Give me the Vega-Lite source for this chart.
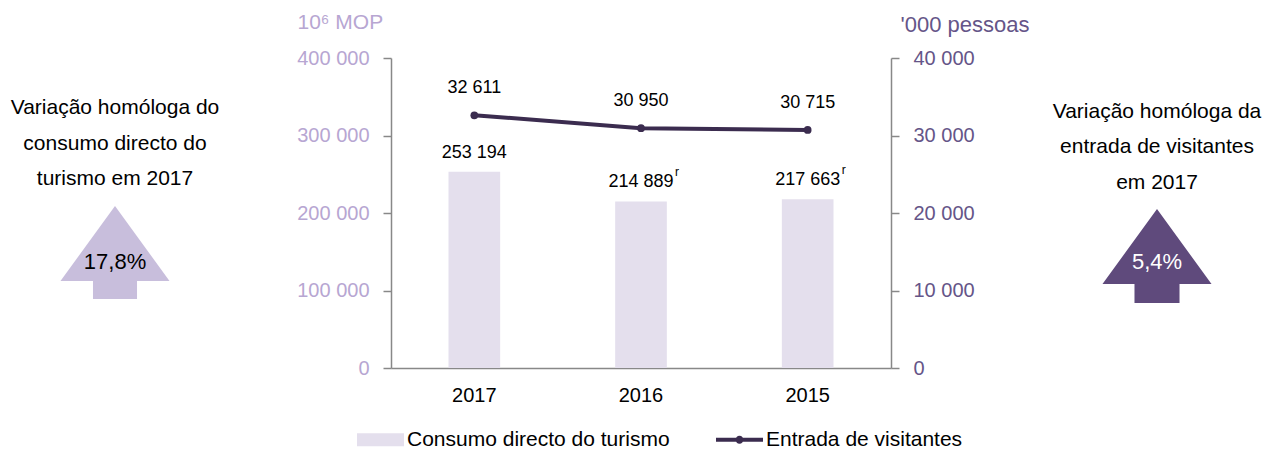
{
  "$schema": "https://vega.github.io/schema/vega-lite/v6.json",
  "width": 500,
  "height": 310,
  "autosize": {"type": "none"},
  "padding": {"left": 391, "top": 58, "right": 386, "bottom": 87},
  "background": "white",
  "config": {
    "font": "Liberation Sans, Arial, sans-serif",
    "view": {"stroke": null},
    "locale": {"number": {"decimal": ",", "thousands": " ", "grouping": [3], "currency": ["", ""]}},
    "axis": {
      "labelFont": "Liberation Sans, Arial, sans-serif",
      "titleFont": "Liberation Sans, Arial, sans-serif",
      "grid": false,
      "domainColor": "#888888",
      "tickColor": "#888888",
      "domainWidth": 1.5,
      "tickWidth": 1.5
    },
    "legend": {"labelFont": "Liberation Sans, Arial, sans-serif"},
    "text": {"font": "Liberation Sans, Arial, sans-serif"}
  },
  "datasets": {
    "principal": [
      {"ano": "2017", "consumo": 253194, "visitantes": 32611, "nota": ""},
      {"ano": "2016", "consumo": 214889, "visitantes": 30950, "nota": "r"},
      {"ano": "2015", "consumo": 217663, "visitantes": 30715, "nota": "r"}
    ],
    "textos": [
      {"lado": "esquerda", "linha": 1, "texto": "Variação homóloga do"},
      {"lado": "esquerda", "linha": 2, "texto": "consumo directo do"},
      {"lado": "esquerda", "linha": 3, "texto": "turismo em 2017"},
      {"lado": "direita", "linha": 1, "texto": "Variação homóloga da"},
      {"lado": "direita", "linha": 2, "texto": "entrada de visitantes"},
      {"lado": "direita", "linha": 3, "texto": "em 2017"}
    ],
    "setas": [
      {"lado": "esquerda", "linha": 5, "variacao": 0.178},
      {"lado": "direita", "linha": 5, "variacao": 0.054}
    ]
  },
  "layer": [
    {
      "data": {"name": "principal"},
      "layer": [
        {
          "encoding": {
            "x": {
              "field": "ano", "type": "nominal", "sort": null,
              "scale": {"paddingInner": 0.69, "paddingOuter": 0.345},
              "axis": {"title": null, "labelAngle": 0, "ticks": false, "labelPadding": 17, "labelFontSize": 20, "labelColor": "#000000"}
            },
            "y": {
              "field": "consumo", "type": "quantitative",
              "scale": {"domain": [0, 400000], "nice": false},
              "axis": {
                "orient": "left",
                "values": [0, 100000, 200000, 300000, 400000],
                "labelExpr": "format(datum.value, ',')",
                "labelFontSize": 20,
                "labelColor": "#b7a6d2",
                "tickSize": 8,
                "labelPadding": 14,
                "title": "10⁶ MOP",
                "titleAngle": 0,
                "titleAlign": "left",
                "titleBaseline": "middle",
                "titleX": -94,
                "titleY": -36,
                "titleFontSize": 21,
                "titleFontWeight": "normal",
                "titleColor": "#b7a6d2"
              }
            }
          },
          "layer": [
            {
              "mark": {"type": "bar"},
              "encoding": {
                "color": {
                  "datum": "Consumo directo do turismo",
                  "scale": {"domain": ["Consumo directo do turismo", "Entrada de visitantes"], "range": ["#e4dfed", "#3b2c4f"]},
                  "legend": {
                    "title": null,
                    "orient": "none",
                    "legendX": -34,
                    "legendY": 358,
                    "direction": "horizontal",
                    "symbolSize": 2209,
                    "labelFontSize": 21,
                    "labelLimit": 0,
                    "labelColor": "#000000",
                    "labelOffset": 3,
                    "columnPadding": 46,
                    "symbolStrokeWidth": 0,
                    "encode": {
                      "symbols": {
                        "update": {
                          "shape": {"signal": "datum.value === 'Consumo directo do turismo' ? 'M-1,-0.28H1V0.28H-1Z' : 'M-1,-0.085H1V0.085H-1ZM0.17,0A0.17,0.17,0,1,1,-0.17,0A0.17,0.17,0,1,1,0.17,0Z'"},
                          "fill": {"signal": "datum.value === 'Consumo directo do turismo' ? '#e4dfed' : '#3b2c4f'"},
                          "opacity": {"value": 1},
                          "fillOpacity": {"value": 1},
                          "strokeWidth": {"value": 0}
                        }
                      }
                    }
                  }
                }
              }
            },
            {
              "mark": {"type": "text", "dy": -19, "fontSize": 18, "color": "#000000"},
              "encoding": {"text": {"field": "consumo", "type": "quantitative", "format": ","}}
            },
            {
              "mark": {"type": "text", "dx": 34, "dy": -29, "fontSize": 12, "align": "left", "color": "#000000"},
              "encoding": {"text": {"field": "nota", "type": "nominal"}}
            }
          ]
        },
        {
          "encoding": {
            "x": {
              "field": "ano", "type": "nominal", "sort": null,
              "scale": {"paddingInner": 0.69, "paddingOuter": 0.345},
              "axis": {"title": null, "labelAngle": 0, "ticks": false, "labelPadding": 17, "labelFontSize": 20, "labelColor": "#000000"}
            },
            "y": {
              "field": "visitantes", "type": "quantitative",
              "scale": {"domain": [0, 40000], "nice": false},
              "axis": {
                "orient": "right",
                "values": [0, 10000, 20000, 30000, 40000],
                "labelExpr": "format(datum.value, ',')",
                "labelFontSize": 20,
                "labelColor": "#655588",
                "tickSize": 8,
                "labelPadding": 14,
                "title": "'000 pessoas",
                "titleAngle": 0,
                "titleAlign": "left",
                "titleBaseline": "middle",
                "titleX": 9,
                "titleY": -34,
                "titleFontSize": 22,
                "titleFontWeight": "normal",
                "titleColor": "#655588"
              }
            }
          },
          "layer": [
            {
              "mark": {"type": "line", "strokeWidth": 4, "point": {"filled": true, "size": 60, "color": "#3b2c4f"}},
              "encoding": {"color": {"datum": "Entrada de visitantes"}}
            },
            {
              "mark": {"type": "text", "dy": -27, "fontSize": 18, "color": "#000000"},
              "encoding": {"text": {"field": "visitantes", "type": "quantitative", "format": ","}}
            }
          ]
        }
      ],
      "resolve": {"scale": {"y": "independent"}}
    },
    {
      "encoding": {
        "x": {"field": "lado", "type": "nominal", "scale": {"type": "point", "domain": ["esquerda", "direita"], "range": [-276, 766], "padding": 0}, "axis": null},
        "y": {"field": "linha", "type": "ordinal", "scale": {"type": "point", "domain": [1, 2, 3, 4, 5], "range": [49, 191], "padding": 0}, "axis": null}
      },
      "layer": [
        {
          "data": {"name": "textos"},
          "transform": [{"filter": "datum.lado === 'esquerda'"}],
          "mark": {"type": "text", "fontSize": 21, "color": "#000000", "baseline": "middle", "dy": 1},
          "encoding": {"text": {"field": "texto", "type": "nominal"}}
        },
        {
          "data": {"name": "textos"},
          "transform": [{"filter": "datum.lado === 'direita'"}],
          "mark": {"type": "text", "fontSize": 21, "color": "#000000", "baseline": "middle", "dy": 4.5},
          "encoding": {"text": {"field": "texto", "type": "nominal"}}
        },
        {
          "data": {"name": "setas"},
          "transform": [{"filter": "datum.lado === 'esquerda'"}],
          "mark": {"type": "point", "filled": true, "size": 11881, "opacity": 1, "strokeWidth": 0, "color": "#c8bedc",
            "shape": "M0,-0.789L1,0.587L0.404,0.587L0.404,0.917L-0.404,0.917L-0.404,0.587L-1,0.587Z"}
        },
        {
          "data": {"name": "setas"},
          "transform": [{"filter": "datum.lado === 'direita'"}],
          "mark": {"type": "point", "filled": true, "size": 11881, "opacity": 1, "strokeWidth": 0, "color": "#5f4a7c",
            "shape": "M0,-0.734L1,0.642L0.413,0.642L0.413,0.991L-0.413,0.991L-0.413,0.642L-1,0.642Z"}
        },
        {
          "data": {"name": "setas"},
          "transform": [{"filter": "datum.lado === 'esquerda'"}],
          "mark": {"type": "text", "fontSize": 22, "color": "#000000", "baseline": "middle", "dy": 13},
          "encoding": {"text": {"field": "variacao", "type": "quantitative", "format": ".1%"}}
        },
        {
          "data": {"name": "setas"},
          "transform": [{"filter": "datum.lado === 'direita'"}],
          "mark": {"type": "text", "fontSize": 22, "color": "#ffffff", "baseline": "middle", "dy": 13},
          "encoding": {"text": {"field": "variacao", "type": "quantitative", "format": ".1%"}}
        }
      ]
    }
  ],
  "resolve": {"scale": {"x": "independent", "y": "independent"}}
}
